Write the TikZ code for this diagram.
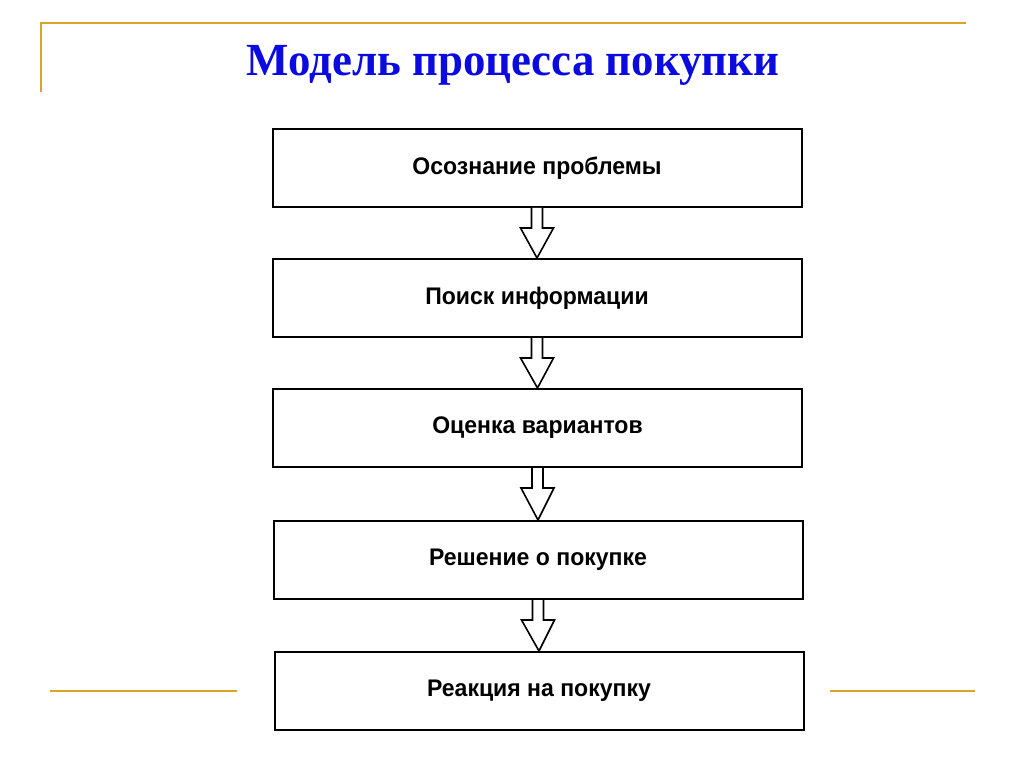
\documentclass[tikz,border=0pt]{standalone}
\usepackage{fontspec}
\setmainfont{Liberation Serif}
\newfontfamily\boxfont{Liberation Sans}
\usetikzlibrary{calc}
\definecolor{gold}{RGB}{215,165,40}
\definecolor{titleblue}{RGB}{10,10,225}
\newcommand{\sq}[1]{\scalebox{0.96}[1]{#1}}
\tikzset{
  stage/.style={draw=black, line width=2pt, minimum width=529pt, minimum height=78pt,
    inner sep=0pt, font=\boxfont\bfseries\fontsize{24}{28}\selectfont},
  goldline/.style={draw=gold, line width=2.5pt},
  flowarrow/.style={draw=black, line width=1.6pt, line join=miter},
}
\newcommand{\flowarrow}[2]{%
  \fill[white] ($(#1.south)+(-5.5,0)$) -- ($(#1.south)+(-5.5,20)$) -- ($(#1.south)+(-16.5,20)$)
     -- (#2.north) -- ($(#1.south)+(16.5,20)$) -- ($(#1.south)+(5.5,20)$) -- ($(#1.south)+(5.5,0)$) -- cycle;
  \draw[flowarrow] ($(#1.south)+(-5.5,0)$) -- ($(#1.south)+(-5.5,20)$) -- ($(#1.south)+(-16.5,20)$)
     -- (#2.north) -- ($(#1.south)+(16.5,20)$) -- ($(#1.south)+(5.5,20)$) -- ($(#1.south)+(5.5,0)$);
}
\begin{document}
\begin{tikzpicture}[x=1pt,y=-1pt]
\useasboundingbox[fill=white] (0,0) rectangle (1024,767);
% decorative gold lines
\coordinate (g1) at (41,92);
\coordinate (g2) at (41,23);
\coordinate (g3) at (966,23);
\draw[goldline] (g1) -- (g2) -- (g3);
\coordinate (l1) at (50,691);
\coordinate (l2) at (237,691);
\coordinate (r1) at (830,691);
\coordinate (r2) at (975,691);
\draw[goldline] (l1) -- (l2);
\draw[goldline] (r1) -- (r2);
% title
\node[text=titleblue, font=\bfseries\fontsize{46}{50}\selectfont, anchor=base, inner sep=0pt] (title) at (513,76) {\scalebox{0.975}[1]{Модель процесса покупки}};
% stages
\node[stage] (b1) at (537,168) {\sq{Осознание проблемы}};
\node[stage] (b2) at (537,298) {\sq{Поиск информации}};
\node[stage] (b3) at (537.5,428) {\sq{Оценка вариантов}};
\node[stage] (b4) at (538,560) {\sq{Решение о покупке}};
\node[stage] (b5) at (539,691) {\sq{Реакция на покупку}};
\flowarrow{b1}{b2}
\flowarrow{b2}{b3}
\flowarrow{b3}{b4}
\flowarrow{b4}{b5}
\end{tikzpicture}
\end{document}
